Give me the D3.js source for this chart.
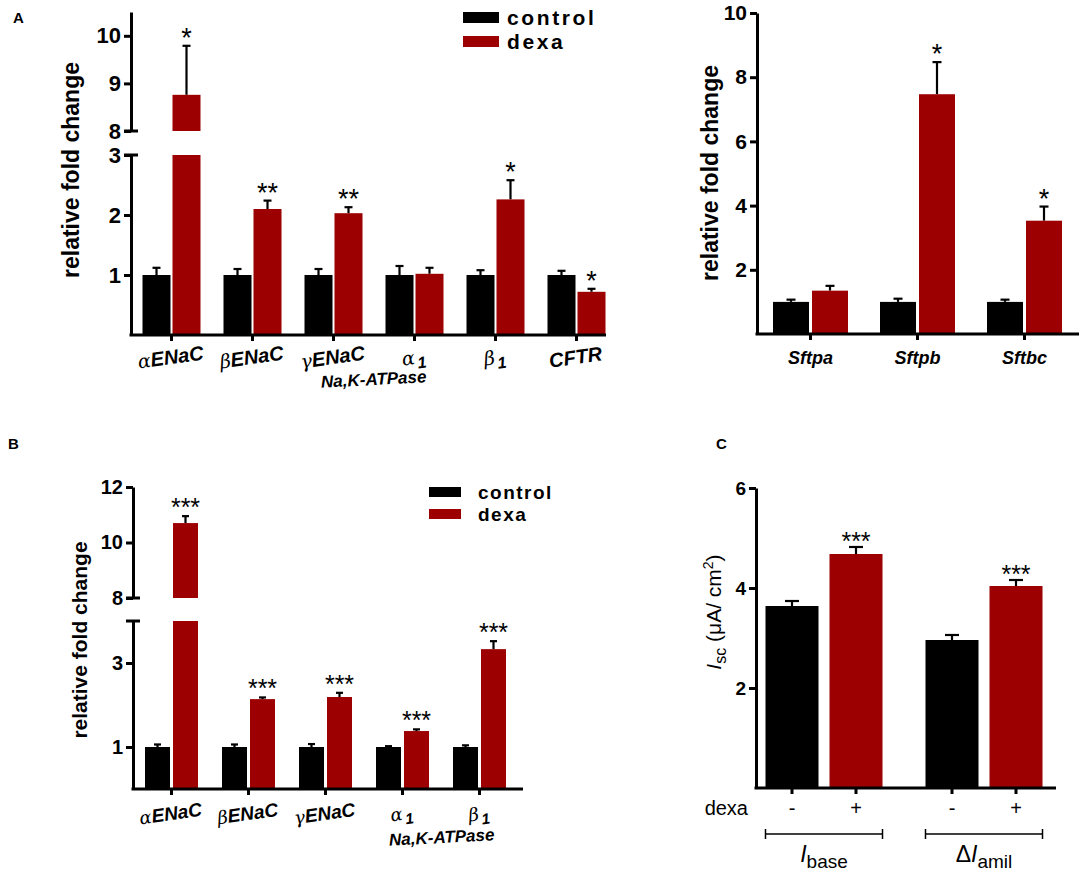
<!DOCTYPE html>
<html lang="en">
<head>
<meta charset="UTF-8">
<title>dexa ENaC expression</title>
<script src="https://cdn.jsdelivr.net/npm/d3@7"></script>
<style>
  body { margin: 0; background: #fff; }
  svg { display: block; font-family: Arial, "Liberation Sans", sans-serif; }
</style>
</head>
<body>
<div id="chart"></div>
<script>

	// panel A left - channel / pump genes
	var genesA = ["αENaC", "βENaC", "γENaC", "α1", "β1", "CFTR"];
	var ctrlA = [1.0, 1.0, 1.0, 1.0, 1.0, 1.0];
	var ctrlErrA = [0.12, 0.1, 0.1, 0.15, 0.08, 0.07];
	var dexaA = [8.76, 2.1, 2.03, 1.02, 2.26, 0.72];
	var dexaErrA = [1.03, 0.14, 0.1, 0.1, 0.32, 0.05];
	var starsA = ["*", "**", "**", "", "*", "*"];

	// panel A right - surfactant genes
	var genesS = ["Sftpa", "Sftpb", "Sftbc"];
	var ctrlS = [1.0, 1.0, 1.0];
	var ctrlErrS = [0.07, 0.1, 0.07];
	var dexaS = [1.35, 7.47, 3.53];
	var dexaErrS = [0.15, 1.0, 0.44];
	var starsS = ["", "*", "*"];

	// panel B
	var genesB = ["αENaC", "βENaC", "γENaC", "α1", "β1"];
	var ctrlB = [1.0, 1.0, 1.0, 1.0, 1.0];
	var ctrlErrB = [0.06, 0.06, 0.07, 0.02, 0.04];
	var dexaB = [10.7, 2.14, 2.19, 1.38, 3.33];
	var dexaErrB = [0.25, 0.04, 0.1, 0.04, 0.19];
	var starsB = ["***", "***", "***", "***", "***"];

	// panel C - short circuit current
	var groupsC = ["base", "amil"];
	var ctrlC = [3.64, 2.96];
	var ctrlErrC = [0.1, 0.1];
	var dexaC = [4.68, 4.04];
	var dexaErrC = [0.14, 0.12];
	var starsC = ["***", "***"];

	var RED = "#9c0000";
	var series = ["control", "dexa"];
	var color = d3.scaleOrdinal().domain(series).range(["#000", RED]);
	var fmt = d3.format("d");

	var svg = d3.select("#chart")
	  .append("svg")
		.attr("width", 1084)
		.attr("height", 872);

	function styleAxis(ax, fontSize) {
	  ax.selectAll("path, line").attr("stroke", "#000").attr("stroke-width", 3);
	  ax.selectAll("text")
		.attr("fill", "#000")
		.style("font-size", fontSize + "px")
		.style("font-weight", "bold")
		.style("font-family", "Arial, 'Liberation Sans', sans-serif");
	}

	// gene names: greek letter in serif italic, rest bold italic
	function geneLabel(g, x, y, name, size, angle) {
	  var t = g.append("text")
		.attr("transform", "translate(" + x + "," + y + ") rotate(" + angle + ")")
		.attr("text-anchor", "middle")
		.style("font-size", size + "px")
		.style("font-weight", "bold")
		.style("font-style", "italic");
	  var m = name.match(/^([αβγ])(.*)$/);
	  if (m) {
		t.append("tspan").style("font-family", "'DejaVu Serif', serif").style("font-weight", "normal")
		  .style("font-size", (size * 0.95) + "px").text(m[1]);
		if (/^\d$/.test(m[2])) {
		  t.append("tspan").attr("dx", 2).attr("dy", size * 0.25).style("font-size", (size * 0.8) + "px").text(m[2]);
		} else {
		  t.append("tspan").text(m[2]);
		}
	  } else {
		t.text(name);
	  }
	}

	function yLabel(x, y, size) {
	  svg.append("text")
		.attr("transform", "translate(" + x + "," + y + ") rotate(-90)")
		.attr("text-anchor", "middle")
		.style("font-size", size + "px")
		.style("font-weight", "bold")
		.text("relative fold change");
	}

	function legend(x, y, size, spacing, gapY, swW, swH, textGap) {
	  series.forEach(function(s, i) {
		svg.append("rect").attr("x", x).attr("y", y + i * gapY).attr("width", swW).attr("height", swH).attr("fill", color(s));
		svg.append("text").attr("x", x + swW + textGap).attr("y", y + i * gapY + swH / 2)
		  .attr("dy", "0.35em")
		  .style("font-size", size + "px").style("font-weight", "bold")
		  .style("letter-spacing", spacing + "px")
		  .text(s);
	  });
	}

	function panel(cfg) {
	  var g = svg.append("g");
	  var lo = d3.scaleLinear().domain(cfg.low.domain).range(cfg.low.range);
	  var hi = cfg.high ? d3.scaleLinear().domain(cfg.high.domain).range(cfg.high.range) : null;
	  var lowMax = cfg.low.domain[1];
	  function y(v) { return hi && v > lowMax ? hi(v) : lo(v); }

	  var x0 = d3.scaleBand().domain(cfg.genes).range(cfg.xRange);
	  var mid = x0.bandwidth() / 2;
	  var x1 = d3.scaleBand().domain(series)
		.range([mid - cfg.barW - cfg.gap / 2, mid + cfg.barW + cfg.gap / 2])
		.paddingInner(cfg.gap / (cfg.barW + cfg.gap));

	  var rows = [];
	  cfg.genes.forEach(function(gene, i) {
		rows.push({gene: gene, s: "control", v: cfg.ctrl[i], e: cfg.ctrlErr[i], star: ""});
		rows.push({gene: gene, s: "dexa", v: cfg.dexa[i], e: cfg.dexaErr[i], star: cfg.stars[i]});
	  });
	  function cx(d) { return x0(d.gene) + x1(d.s) + x1.bandwidth() / 2; }

	  // error bars (upper only)
	  g.selectAll("line.err").data(rows).enter().append("line")
		.attr("x1", cx).attr("x2", cx)
		.attr("y1", function(d) { return y(d.v); })
		.attr("y2", function(d) { return y(d.v + d.e); })
		.attr("stroke", "#000").attr("stroke-width", 2.2);
	  g.selectAll("line.cap").data(rows).enter().append("line")
		.attr("x1", function(d) { return cx(d) - cfg.capW / 2; })
		.attr("x2", function(d) { return cx(d) + cfg.capW / 2; })
		.attr("y1", function(d) { return y(d.v + d.e); })
		.attr("y2", function(d) { return y(d.v + d.e); })
		.attr("stroke", "#000").attr("stroke-width", 2.2);

	  // bars, split at the break when needed
	  var pieces = [];
	  rows.forEach(function(d) {
		if (hi && d.v > lowMax) {
		  pieces.push({d: d, y0: lo(0), y1: lo(lowMax)});
		  pieces.push({d: d, y0: hi(cfg.high.domain[0]), y1: hi(d.v)});
		} else {
		  pieces.push({d: d, y0: lo(0), y1: lo(d.v)});
		}
	  });
	  g.selectAll("rect.bar").data(pieces).enter().append("rect")
		.attr("x", function(p) { return x0(p.d.gene) + x1(p.d.s); })
		.attr("width", x1.bandwidth())
		.attr("y", function(p) { return p.y1; })
		.attr("height", function(p) { return p.y0 - p.y1; })
		.attr("fill", function(p) { return color(p.d.s); });

	  // stars
	  g.selectAll("text.star").data(rows.filter(function(d) { return d.star; })).enter().append("text")
		.attr("x", cx)
		.attr("y", function(d) { return y(d.v + d.e) + cfg.starDy; })
		.attr("text-anchor", "middle")
		.style("font-size", cfg.starFont + "px")
		.text(function(d) { return d.star; });

	  // y axis segments
	  var axLo = g.append("g").attr("transform", "translate(" + cfg.axisX + ",0)")
		.call(d3.axisLeft(lo).tickValues(cfg.low.ticks).tickSize(7).tickSizeOuter(0).tickPadding(3)
		  .tickFormat(function(d) { return cfg.low.labels.indexOf(d) >= 0 ? fmt(d) : ""; }));
	  styleAxis(axLo, cfg.tickFont);
	  if (hi) {
		var axHi = g.append("g").attr("transform", "translate(" + cfg.axisX + ",0)")
		  .call(d3.axisLeft(hi).tickValues(cfg.high.ticks).tickSize(7).tickSizeOuter(0).tickPadding(3).tickFormat(fmt));
		styleAxis(axHi, cfg.tickFont);
		// crossbars at the ends of the break
		[lo(lowMax), hi(cfg.high.domain[0])].forEach(function(yy) {
		  g.append("line").attr("x1", cfg.axisX - 7).attr("x2", cfg.axisX + 7)
			.attr("y1", yy).attr("y2", yy).attr("stroke", "#000").attr("stroke-width", 3);
		});
	  }

	  // x axis
	  var axX = g.append("g").attr("transform", "translate(0," + lo(0) + ")")
		.call(d3.axisBottom(x0).tickSize(6).tickSizeOuter(0).tickFormat(""));
	  axX.select(".domain").remove();
	  styleAxis(axX, 10);
	  g.append("line").attr("x1", cfg.axisX - 1.5).attr("x2", cfg.xEnd)
		.attr("y1", lo(0)).attr("y2", lo(0)).attr("stroke", "#000").attr("stroke-width", 3);

	  cfg.genes.forEach(function(gene) {
		var xc = x0(gene) + mid;
		if (cfg.greekLabels) geneLabel(g, xc, lo(0) + cfg.labelDy, gene, cfg.labelFont, cfg.labelAngle);
		else g.append("text").attr("x", xc).attr("y", lo(0) + cfg.labelDy).attr("text-anchor", "middle")
		  .style("font-size", cfg.labelFont + "px").style("font-weight", "bold").style("font-style", "italic").text(gene);
	  });
	  return g;
	}

	// ---------- panel A ----------
	svg.append("text").attr("x", 13).attr("y", 23).style("font-size", "15px").style("font-weight", "bold").text("A");

	panel({
	  genes: genesA, ctrl: ctrlA, ctrlErr: ctrlErrA, dexa: dexaA, dexaErr: dexaErrA, stars: starsA,
	  axisX: 131, xRange: [131, 617], xEnd: 606, barW: 28, gap: 2, capW: 8,
	  low: {domain: [0, 3], range: [335, 155], ticks: [1, 2, 3], labels: [1, 2, 3]},
	  high: {domain: [8, 10.5], range: [131, 12], ticks: [8, 9, 10]},
	  tickFont: 22, starFont: 27, starDy: 1,
	  greekLabels: true, labelFont: 20, labelDy: 29, labelAngle: -8
	});
	svg.append("text").attr("transform", "translate(374,385) rotate(-3)").attr("text-anchor", "middle")
	  .style("font-size", "17px").style("font-weight", "bold").style("font-style", "italic").text("Na,K-ATPase");
	yLabel(79, 170, 23);
	legend(463, 12, 21, 2.6, 24, 36, 11, 8);

	panel({
	  genes: genesS, ctrl: ctrlS, ctrlErr: ctrlErrS, dexa: dexaS, dexaErr: dexaErrS, stars: starsS,
	  axisX: 757, xRange: [757, 1078], xEnd: 1079, barW: 36, gap: 3, capW: 9,
	  low: {domain: [0, 10], range: [334, 13], ticks: [2, 4, 6, 8, 10], labels: [2, 4, 6, 8, 10]},
	  tickFont: 21, starFont: 27, starDy: 1,
	  greekLabels: false, labelFont: 18, labelDy: 30
	});
	yLabel(718, 173, 23);

	// ---------- panel B ----------
	svg.append("text").attr("x", 8).attr("y", 449).style("font-size", "15px").style("font-weight", "bold").text("B");

	panel({
	  genes: genesB, ctrl: ctrlB, ctrlErr: ctrlErrB, dexa: dexaB, dexaErr: dexaErrB, stars: starsB,
	  axisX: 133, xRange: [133, 518], xEnd: 523, barW: 25, gap: 3, capW: 7,
	  low: {domain: [0, 4], range: [789, 621], ticks: [1, 3], labels: [1, 3]},
	  high: {domain: [8, 12], range: [598, 487], ticks: [8, 10, 12]},
	  tickFont: 20, starFont: 25, starDy: 0,
	  greekLabels: true, labelFont: 19, labelDy: 31, labelAngle: -8
	});
	svg.append("text").attr("transform", "translate(442,843) rotate(-3)").attr("text-anchor", "middle")
	  .style("font-size", "17px").style("font-weight", "bold").style("font-style", "italic").text("Na,K-ATPase");
	yLabel(87, 640, 21);
	legend(429, 487, 19, 1.5, 22, 32, 10, 17);

	// ---------- panel C ----------
	svg.append("text").attr("x", 716).attr("y", 449).style("font-size", "15px").style("font-weight", "bold").text("C");

	var gC = svg.append("g");
	var yC = d3.scaleLinear().domain([0, 6]).range([788, 488]);
	var xC0 = d3.scaleBand().domain(groupsC).range([744, 1064]);
	var xC1 = d3.scaleBand().domain(series).range([21.5, 138.5]).paddingInner(11 / 64);
	var rowsC = [];
	groupsC.forEach(function(grp, i) {
	  rowsC.push({g: grp, s: "control", v: ctrlC[i], e: ctrlErrC[i], star: "", sign: "-"});
	  rowsC.push({g: grp, s: "dexa", v: dexaC[i], e: dexaErrC[i], star: starsC[i], sign: "+"});
	});
	function cxC(d) { return xC0(d.g) + xC1(d.s) + xC1.bandwidth() / 2; }

	gC.selectAll("line.err").data(rowsC).enter().append("line")
	  .attr("x1", cxC).attr("x2", cxC)
	  .attr("y1", function(d) { return yC(d.v); }).attr("y2", function(d) { return yC(d.v + d.e); })
	  .attr("stroke", "#000").attr("stroke-width", 2.2);
	gC.selectAll("line.cap").data(rowsC).enter().append("line")
	  .attr("x1", function(d) { return cxC(d) - 7; }).attr("x2", function(d) { return cxC(d) + 7; })
	  .attr("y1", function(d) { return yC(d.v + d.e); }).attr("y2", function(d) { return yC(d.v + d.e); })
	  .attr("stroke", "#000").attr("stroke-width", 2.2);
	gC.selectAll("rect.bar").data(rowsC).enter().append("rect")
	  .attr("x", function(d) { return xC0(d.g) + xC1(d.s); })
	  .attr("width", xC1.bandwidth())
	  .attr("y", function(d) { return yC(d.v); })
	  .attr("height", function(d) { return yC(0) - yC(d.v); })
	  .attr("fill", function(d) { return color(d.s); });
	gC.selectAll("text.star").data(rowsC.filter(function(d) { return d.star; })).enter().append("text")
	  .attr("x", cxC).attr("y", function(d) { return yC(d.v + d.e) + 3; })
	  .attr("text-anchor", "middle").style("font-size", "25px").text(function(d) { return d.star; });

	var axC = gC.append("g").attr("transform", "translate(756,0)")
	  .call(d3.axisLeft(yC).tickValues([2, 4, 6]).tickSize(7).tickSizeOuter(0).tickPadding(3).tickFormat(fmt));
	styleAxis(axC, 19);
	gC.append("line").attr("x1", 754.5).attr("x2", 1056).attr("y1", yC(0)).attr("y2", yC(0))
	  .attr("stroke", "#000").attr("stroke-width", 3);
	gC.selectAll("line.xt").data(rowsC).enter().append("line")
	  .attr("x1", cxC).attr("x2", cxC).attr("y1", yC(0)).attr("y2", yC(0) + 6)
	  .attr("stroke", "#000").attr("stroke-width", 3);
	gC.selectAll("text.sign").data(rowsC).enter().append("text")
	  .attr("x", cxC).attr("y", 815).attr("text-anchor", "middle")
	  .style("font-size", "20px").text(function(d) { return d.sign; });
	gC.append("text").attr("x", 748).attr("y", 815).attr("text-anchor", "end").style("font-size", "20px").text("dexa");

	// brackets under each pair
	groupsC.forEach(function(grp) {
	  var xa = xC0(grp) + xC1("control"), xb = xC0(grp) + xC1("dexa") + xC1.bandwidth();
	  var yb = 834;
	  gC.append("line").attr("x1", xa).attr("x2", xb).attr("y1", yb).attr("y2", yb).attr("stroke", "#000").attr("stroke-width", 1.5);
	  [xa, xb].forEach(function(xx) {
		gC.append("line").attr("x1", xx).attr("x2", xx).attr("y1", yb - 5).attr("y2", yb + 5).attr("stroke", "#000").attr("stroke-width", 1.5);
	  });
	  var t = gC.append("text").attr("x", (xa + xb) / 2).attr("y", 862).attr("text-anchor", "middle").style("font-size", "23px");
	  if (grp === "amil") t.append("tspan").text("Δ");
	  t.append("tspan").style("font-style", "italic").text("I");
	  t.append("tspan").attr("dy", 6).style("font-size", "19px").text(grp);
	});

	// y label for C
	var tC = gC.append("text").attr("transform", "translate(721,612) rotate(-90)").attr("text-anchor", "middle")
	  .style("font-size", "21px");
	tC.append("tspan").style("font-style", "italic").text("I");
	tC.append("tspan").attr("dy", 5).style("font-size", "16px").text("sc");
	tC.append("tspan").attr("dy", -5).text(" (μA/ cm");
	tC.append("tspan").attr("dy", -8).style("font-size", "14px").text("2");
	tC.append("tspan").attr("dy", 8).text(")");

</script>
</body>
</html>
